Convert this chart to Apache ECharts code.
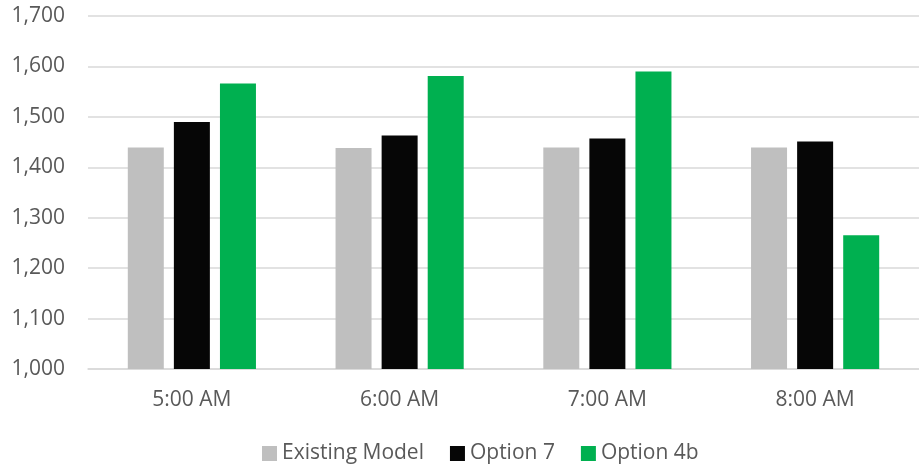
<!DOCTYPE html>
<html>
<head>
<meta charset="utf-8">
<script src="https://cdn.jsdelivr.net/npm/echarts@6/dist/echarts.min.js"></script>
<style>
  html, body { margin: 0; padding: 0; background: #fff; }
  #chart { width: 919px; height: 469px; }
</style>
</head>
<body>
<div id="chart"></div>
<script>
const categories = ['5:00 AM', '6:00 AM', '7:00 AM', '8:00 AM']
const existingModel = [1439, 1438, 1439, 1439]
const option7 = [1490, 1463, 1457, 1451]
const option4b = [1566, 1581, 1590, 1265]

const textColor = '#595959'
const font = 'Open Sans'

const chart = echarts.init(document.getElementById('chart'))

function barSeries(name, data, color) {
  return {
    name,
    type: 'bar',
    data,
    barWidth: 36,
    barGap: '28%',
    itemStyle: { color },
  }
}

chart.setOption({
  animation: false,
  backgroundColor: '#fff',
  textStyle: { fontFamily: font },
  grid: { left: 88, right: -8, top: 16, bottom: 100 },
  legend: {
    bottom: 0,
    left: 257,
    itemWidth: 15,
    itemHeight: 15,
    itemGap: 26,
    itemTextGap: 5,
    icon: 'rect',
    textStyle: { color: textColor, fontSize: 21, fontFamily: font },
    data: ['Existing Model', 'Option 7', 'Option 4b'],
  },
  xAxis: {
    type: 'category',
    data: categories,
    axisLine: { lineStyle: { color: '#d9d9d9', width: 1.5 } },
    axisTick: { show: false },
    axisLabel: { color: textColor, fontSize: 21, margin: 21, fontFamily: font },
  },
  yAxis: {
    type: 'value',
    min: 1000,
    max: 1700,
    interval: 100,
    axisLine: { show: false },
    axisTick: { show: false },
    axisLabel: {
      color: textColor,
      fontSize: 21,
      margin: 23,
      fontFamily: font,
      formatter: v => v.toLocaleString('en-US'),
    },
    splitLine: { lineStyle: { color: '#d9d9d9', width: 1.5 } },
  },
  series: [
    barSeries('Existing Model', existingModel, '#bfbfbf'),
    barSeries('Option 7', option7, '#060606'),
    barSeries('Option 4b', option4b, '#00b050'),
  ],
})
</script>
</body>
</html>
